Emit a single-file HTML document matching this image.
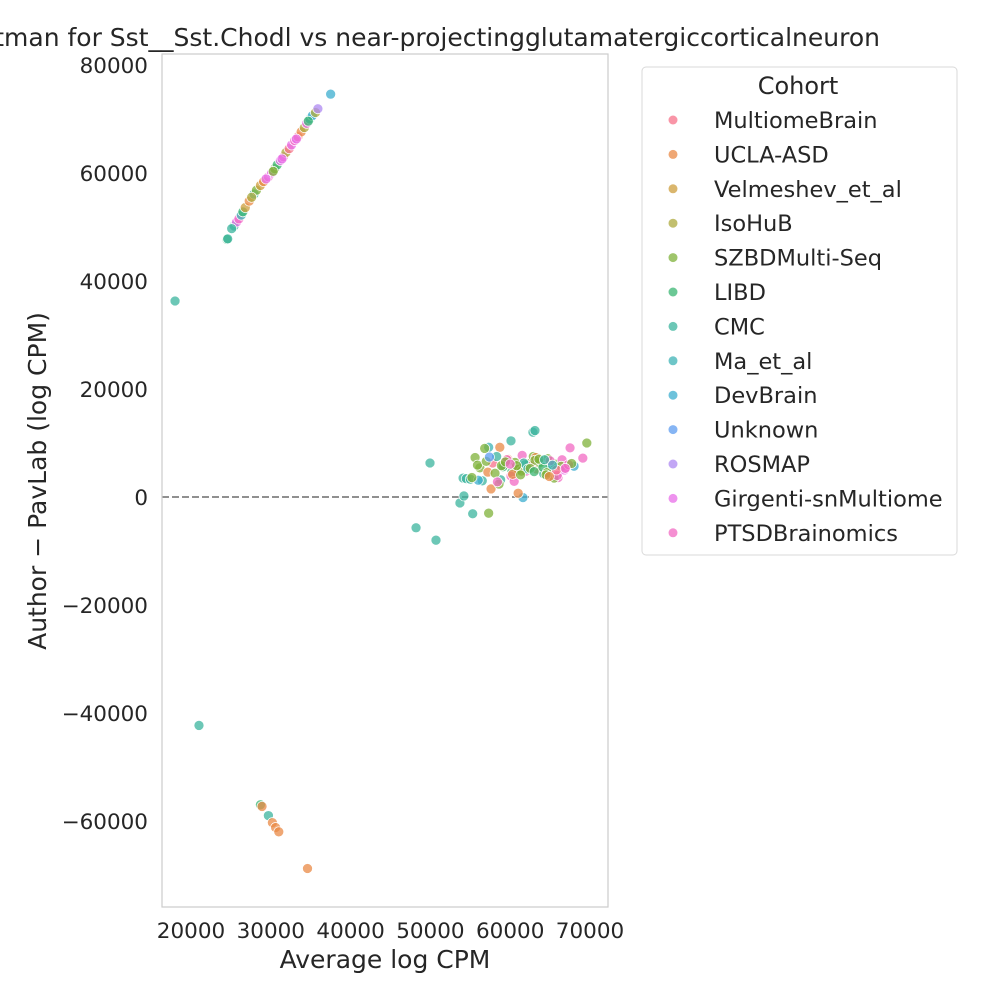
<!DOCTYPE html>
<html><head><meta charset="utf-8"><style>
body{margin:0;background:#fff}
svg{font-family:"DejaVu Sans","Liberation Sans",sans-serif;display:block}
</style></head><body>
<svg id="chart" width="1000" height="1000" viewBox="0 0 1000 1000">
<rect x="0" y="0" width="1000" height="1000" fill="#fff"/>
<text x="880" y="46" font-size="25" text-anchor="end" fill="#262626">Bland-Altman for Sst__Sst.Chodl vs near-projectingglutamatergiccorticalneuron</text>
<g id="xticks"></g>
<g id="yticks"></g>
<g id="points"></g>
<rect x="162" y="54" width="446" height="853" fill="none" stroke="#cccccc" stroke-width="1.2"/>
<text x="385" y="968" font-size="25" text-anchor="middle" fill="#262626">Average log CPM</text>
<text transform="translate(46,481) rotate(-90)" font-size="25" text-anchor="middle" fill="#262626">Author − PavLab (log CPM)</text>
<g id="legend">
<rect x="642" y="67" width="315" height="488" rx="4" fill="#fff" stroke="#d9d9d9"/>
<text x="798" y="94" font-size="24" text-anchor="middle" fill="#262626">Cohort</text>
</g>
</svg>
<script>
const cohorts=["MultiomeBrain","UCLA-ASD","Velmeshev_et_al","IsoHuB","SZBDMulti-Seq","LIBD","CMC","Ma_et_al","DevBrain","Unknown","ROSMAP","Girgenti-snMultiome","PTSDBrainomics"];
const colors=["#f77189","#e98a45","#cd9e3c","#aeaa3d","#7fb239","#3ab671","#3bb49e","#3db3b5","#3cadcf","#5d9cf0","#ad88f2","#e86ee8","#f26ac3"];
const xTicks=[20000,30000,40000,50000,60000,70000];
const yTicks=[80000,60000,40000,20000,0,-20000,-40000,-60000];
const ptCohort=[5,6,6,11,12,7,5,2,1,6,4,2,1,12,11,4,5,11,12,3,0,11,12,0,1,3,11,7,8,3,10,8,6,3,11,4,11,11,5,
6,6,5,1,6,1,1,1,1,
6,6,6,6,6,6,4,8,1,6,6,6,4,12,8,12,1,7,6,6,6,
4,4,4,1,0,6,6,4,1,5,4,0,12,12,4,4,1,4,6,4,5,4,12,12,4,6,4,1,4,4,5,12,12,12,4,4,6,4,0,1,4,5,4,12,4,12,4,11,12,4,8,9,4,1,6,4,4,0,12,4,4,6,4,1,4,5,4,12,12,4,6,7,6,4,1,4,12];
const ptAvg=[24500,24600,25400,25700,26000,26300,26500,26800,27300,27900,28200,28700,29100,29700,30100,30500,30800,31200,31600,31900,32300,32600,33000,33400,33800,34200,34500,34900,35200,35600,35900,37500,25100,27600,29400,30300,31400,33200,34700,
18000,21000,28700,28900,29700,30200,30600,31000,34600,
48200,50700,49950,53700,54200,55300,57300,61600,61000,60100,62850,63100,69600,69100,68000,67500,58700,57300,54100,54500,55000,
55600,56200,56800,57200,57800,58300,58800,59200,59700,60200,60600,61100,61500,62000,62400,62900,63300,63800,64200,64700,65100,65600,66000,66500,55900,56500,57000,57600,58100,58600,59100,59600,60100,60500,61000,61400,61900,62300,62800,63200,63700,64100,64600,65000,65500,65900,66400,66800,67300,67700,56000,57400,58900,60300,61700,63100,64500,65800,66900,59400,60800,62200,63600,64900,62500,63000,61300,60000,58400,55200,64300,65300];
const ptDiff=[47700,47800,50200,50900,51500,52200,52800,53600,54800,56100,56800,57700,58400,59300,60000,60800,61500,62300,63000,63800,64500,65200,66000,66700,67600,68400,69200,70000,70600,71200,71900,74600,49700,55500,58900,60300,62600,66300,69600,
36300,-42300,-57000,-57300,-59000,-60300,-61200,-62000,-68800,
-5700,-8000,6300,-1100,200,-3100,-3000,-100,700,10400,12000,12300,10000,7200,5700,9100,9200,9200,3500,3400,3300,
7300,5400,9000,4600,6300,7500,3200,5900,7000,4600,6400,5300,7700,4800,6200,7500,5200,6600,4300,7100,5500,6100,3600,6900,5900,3000,6600,1500,4400,2400,5600,6900,3900,2900,5100,4800,6000,5300,5900,7300,6300,5500,4500,6700,3500,4000,5700,5000,6000,6200,3100,7400,5800,4200,6300,6800,4100,5000,5300,6500,5800,5200,7000,3800,5300,4700,4100,6100,2800,3600,6900,5900];
const X=v=>191+(v-20000)*0.00798;
const Y=v=>497-v*0.0054;
const NS="http://www.w3.org/2000/svg";
const xg=document.getElementById('xticks'),yg=document.getElementById('yticks'),pg=document.getElementById('points'),lg=document.getElementById('legend');
xTicks.forEach(t=>{
 const tx=document.createElementNS(NS,'text');
 tx.setAttribute('x',X(t));tx.setAttribute('y',938);tx.setAttribute('font-size','21.5');tx.setAttribute('text-anchor','middle');tx.setAttribute('fill','#262626');
 
 
 tx.textContent=t;xg.appendChild(tx);
});
yTicks.forEach(t=>{
 const tx=document.createElementNS(NS,'text');
 tx.setAttribute('x',148);tx.setAttribute('y',Y(t)+8);tx.setAttribute('font-size','21.5');tx.setAttribute('text-anchor','end');tx.setAttribute('fill','#262626');
 
 
 tx.textContent=(t<0?'−':'')+Math.abs(t);yg.appendChild(tx);
});
const zl=document.createElementNS(NS,'line');
zl.setAttribute('x1',162);zl.setAttribute('x2',608);zl.setAttribute('y1',Y(0));zl.setAttribute('y2',Y(0));
zl.setAttribute('stroke','#808080');zl.setAttribute('stroke-width','1.8');zl.setAttribute('stroke-dasharray','7,3');


pg.appendChild(zl);
ptAvg.forEach((a,i)=>{
 const c=document.createElementNS(NS,'circle');
 c.setAttribute('cx',X(a));c.setAttribute('cy',Y(ptDiff[i]));c.setAttribute('r','5');
 c.setAttribute('fill',colors[ptCohort[i]]);c.setAttribute('fill-opacity','0.75');c.setAttribute('stroke','#fff');c.setAttribute('stroke-width','0.7');
 
 
 pg.appendChild(c);
});
cohorts.forEach((n,i)=>{
 const y=120+i*34.4;
 const c=document.createElementNS(NS,'circle');
 c.setAttribute('cx',673);c.setAttribute('cy',y);c.setAttribute('r','4.5');c.setAttribute('fill',colors[i]);c.setAttribute('fill-opacity','0.75');
 
 
 lg.appendChild(c);
 const t=document.createElementNS(NS,'text');
 t.setAttribute('x',714);t.setAttribute('y',y+8);t.setAttribute('font-size','22.5');t.setAttribute('fill','#262626');
 
 
 t.textContent=n;lg.appendChild(t);
});
</script>
</body></html>
